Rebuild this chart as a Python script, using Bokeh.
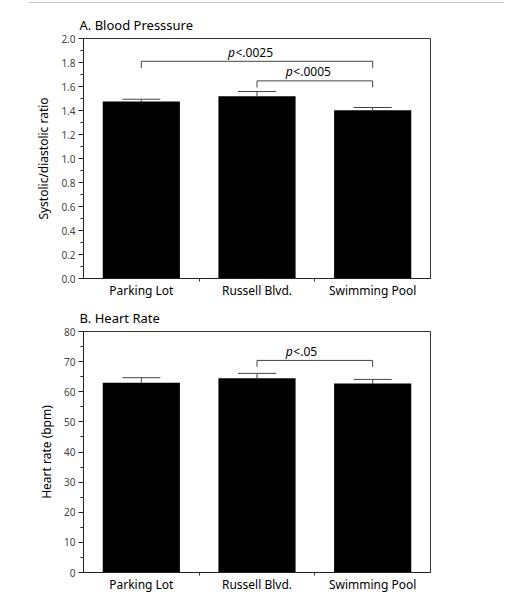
from bokeh.plotting import figure
from bokeh.models import (Range1d, FixedTicker, SingleIntervalTicker, NumeralTickFormatter,
                          Whisker, TeeHead, ColumnDataSource, Div)
from bokeh.layouts import column
from bokeh.core.properties import value
from bokeh.embed import file_html
from bokeh.resources import INLINE

# ---------------- data ----------------
categories = ["Parking Lot", "Russell Blvd.", "Swimming Pool"]

bp_mean = [1.475, 1.519, 1.403]
bp_sem = [0.019, 0.039, 0.022]
bp_pairs = [(0, 2), (1, 2)]
bp_labels = ["<.0025", "<.0005"]
bp_bracket_y = [1.81, 1.647]

hr_mean = [62.97, 64.5, 62.7]
hr_sem = [1.7, 1.6, 1.4]
hr_pairs = [(1, 2)]
hr_labels = ["<.05"]
hr_bracket_y = [70.4]

FONT = "Noto Sans"


def make_panel(title, ylabel, means, sems, ymax, interval, fmt, pairs, labels,
               bracket_y, drop, frame_h, top_border, bottom_border):
    n = len(categories)
    centers = [i + 0.5 for i in range(n)]
    p = figure(x_range=Range1d(0, n), y_range=Range1d(0, ymax),
               frame_width=347, frame_height=frame_h,
               min_border_left=83, min_border_right=74,
               min_border_top=top_border, min_border_bottom=bottom_border,
               output_backend="svg", toolbar_location=None, title=title)
    p.title.text_font = FONT
    p.title.text_font_size = "13px"
    p.title.text_font_style = "normal"
    p.title.align = "left"
    p.title.offset = -4
    p.title.text_color = "black"
    p.outline_line_color = "#333333"
    p.xgrid.visible = False
    p.ygrid.visible = False

    xa = p.xaxis[0]
    xa.ticker = FixedTicker(ticks=centers, minor_ticks=list(range(1, n)))
    xa.major_label_overrides = {c: lab for c, lab in zip(centers, categories)}
    xa.major_tick_out = 0
    xa.major_tick_in = 0
    xa.minor_tick_out = 3
    xa.minor_tick_in = 0
    xa.minor_tick_line_color = "#333333"
    xa.axis_line_color = "#222222"
    xa.major_label_standoff = 0
    xa.major_label_text_font = FONT
    xa.major_label_text_font_size = "12px"
    xa.major_label_text_color = "black"

    ya = p.yaxis[0]
    ya.ticker = SingleIntervalTicker(interval=interval, num_minor_ticks=2)
    ya.formatter = NumeralTickFormatter(format=fmt)
    ya.major_tick_out = 5
    ya.major_tick_in = 0
    ya.minor_tick_out = 3
    ya.minor_tick_in = 0
    ya.axis_line_color = "#222222"
    ya.major_tick_line_color = "#222222"
    ya.minor_tick_line_color = "#222222"
    ya.major_label_standoff = 3
    ya.major_label_text_font = FONT
    ya.major_label_text_font_size = "10px"
    ya.major_label_text_color = "#444444"
    ya.axis_label = ylabel
    ya.axis_label_text_font = FONT
    ya.axis_label_text_font_size = "12px"
    ya.axis_label_text_font_style = "normal"
    ya.axis_label_text_color = "black"
    ya.axis_label_standoff = 6

    p.vbar(x=centers, top=means, width=0.667, fill_color="black", line_color=None)

    src = ColumnDataSource(dict(x=centers, lower=means,
                                upper=[m + s for m, s in zip(means, sems)]))
    p.add_layout(Whisker(base="x", lower="lower", upper="upper", source=src,
                         upper_head=TeeHead(size=38, line_color="#444444", line_width=1),
                         lower_head=None, line_color="#444444", line_width=1))

    xs = [[centers[i], centers[i], centers[j], centers[j]] for i, j in pairs]
    ys = [[b - drop, b, b, b - drop] for b in bracket_y]
    p.multi_line(xs=xs, ys=ys, line_color="#444444", line_width=1)

    mids = [(centers[i] + centers[j]) / 2 for i, j in pairs]
    p.text(x=mids, y=bracket_y, text=["p"] * len(pairs),
           text_font=value(FONT), text_font_style="italic", text_font_size="12px",
           text_align="left", text_baseline="middle", x_offset=-29, y_offset=-9,
           text_color="black")
    p.text(x=mids, y=bracket_y, text=labels,
           text_font=value(FONT), text_font_size="12px",
           text_align="left", text_baseline="middle", x_offset=-21.5, y_offset=-9,
           text_color="black")
    return p


p1 = make_panel("A. Blood Presssure", "Systolic/diastolic ratio", bp_mean, bp_sem, 2.0, 0.2,
                "0.0", bp_pairs, bp_labels, bp_bracket_y, 0.055, 240, 34, 21)
p2 = make_panel("B. Heart Rate", "Heart rate (bpm)", hr_mean, hr_sem, 80, 10,
                "0", hr_pairs, hr_labels, hr_bracket_y, 2.1, 241, 30, 20)

line = Div(text="", width=475, height=1, margin=(2, 0, 1, 29),
           styles={"border-top": "1px solid #c8c8c8"})

layout = column(line, p1, p2, spacing=0)

open("out.html", "w").write(file_html(layout, INLINE))
